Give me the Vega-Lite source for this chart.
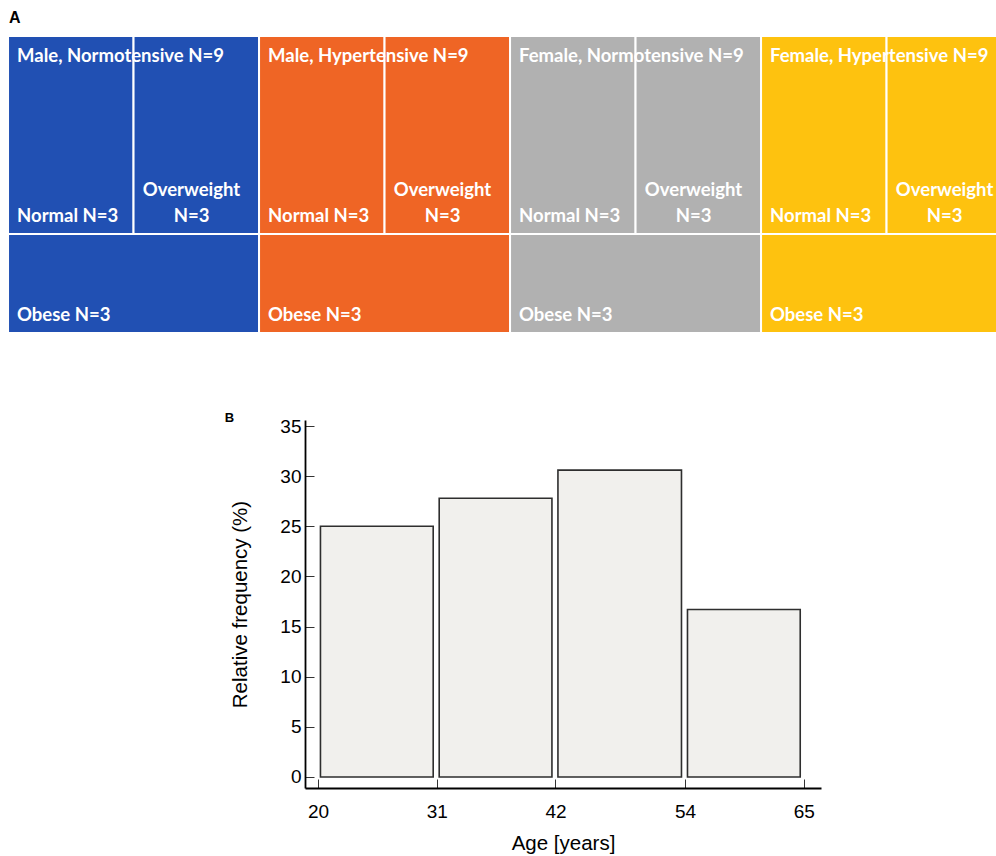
{
  "$schema": "https://vega.github.io/schema/vega-lite/v6.json",
  "padding": {"top": 10, "left": 0, "right": 0, "bottom": 0},
  "background": "white",
  "spacing": 79,
  "config": {"view": {"stroke": null}},
  "datasets": {
    "cells": [
      {"group": "Male, Normotensive", "cat": "Normal", "label": "Normal N=3", "x0": 0, "x1": 0.5, "y0": 0, "y1": 0.667},
      {"group": "Male, Normotensive", "cat": "Overweight", "label": "Overweight\nN=3", "x0": 0.5, "x1": 1, "y0": 0, "y1": 0.667},
      {"group": "Male, Normotensive", "cat": "Obese", "label": "Obese N=3", "x0": 0, "x1": 1, "y0": 0.667, "y1": 1},
      {"group": "Male, Hypertensive", "cat": "Normal", "label": "Normal N=3", "x0": 1, "x1": 1.5, "y0": 0, "y1": 0.667},
      {"group": "Male, Hypertensive", "cat": "Overweight", "label": "Overweight\nN=3", "x0": 1.5, "x1": 2, "y0": 0, "y1": 0.667},
      {"group": "Male, Hypertensive", "cat": "Obese", "label": "Obese N=3", "x0": 1, "x1": 2, "y0": 0.667, "y1": 1},
      {"group": "Female, Normotensive", "cat": "Normal", "label": "Normal N=3", "x0": 2, "x1": 2.5, "y0": 0, "y1": 0.667},
      {"group": "Female, Normotensive", "cat": "Overweight", "label": "Overweight\nN=3", "x0": 2.5, "x1": 3, "y0": 0, "y1": 0.667},
      {"group": "Female, Normotensive", "cat": "Obese", "label": "Obese N=3", "x0": 2, "x1": 3, "y0": 0.667, "y1": 1},
      {"group": "Female, Hypertensive", "cat": "Normal", "label": "Normal N=3", "x0": 3, "x1": 3.5, "y0": 0, "y1": 0.667},
      {"group": "Female, Hypertensive", "cat": "Overweight", "label": "Overweight\nN=3", "x0": 3.5, "x1": 4, "y0": 0, "y1": 0.667},
      {"group": "Female, Hypertensive", "cat": "Obese", "label": "Obese N=3", "x0": 3, "x1": 4, "y0": 0.667, "y1": 1}
    ],
    "groups": [
      {"group": "Male, Normotensive", "title": "Male, Normotensive N=9", "x0": 0, "y0": 0},
      {"group": "Male, Hypertensive", "title": "Male, Hypertensive N=9", "x0": 1, "y0": 0},
      {"group": "Female, Normotensive", "title": "Female, Normotensive N=9", "x0": 2, "y0": 0},
      {"group": "Female, Hypertensive", "title": "Female, Hypertensive N=9", "x0": 3, "y0": 0}
    ],
    "ages": [
      {"age_start": 20, "age_end": 31, "pct": 25.0},
      {"age_start": 31, "age_end": 42, "pct": 27.8},
      {"age_start": 42, "age_end": 54, "pct": 30.6},
      {"age_start": 54, "age_end": 65, "pct": 16.7}
    ]
  },
  "vconcat": [
    {
      "width": 996,
      "height": 297,
      "title": {"text": "A", "anchor": "start", "frame": "group", "font": "Liberation Sans", "fontSize": 16, "fontWeight": "bold", "color": "black", "offset": 10, "dx": 9},
      "layer": [
        {
          "data": {"name": "cells"},
          "mark": {"type": "rect", "stroke": "white", "strokeWidth": 2, "clip": true},
          "encoding": {
            "x": {"field": "x0", "type": "quantitative", "scale": {"domain": [-0.032, 3.936], "nice": false, "zero": false}, "axis": null},
            "x2": {"field": "x1"},
            "y": {"field": "y0", "type": "quantitative", "scale": {"domain": [0, 1], "nice": false, "reverse": true}, "axis": null},
            "y2": {"field": "y1"},
            "color": {"field": "group", "type": "nominal", "legend": null,
              "scale": {"domain": ["Male, Normotensive", "Male, Hypertensive", "Female, Normotensive", "Female, Hypertensive"],
                        "range": ["#2150b3", "#ef6525", "#b1b1b1", "#fec20f"]}}
          }
        },
        {
          "data": {"name": "cells"},
          "transform": [{"filter": "datum.cat !== 'Overweight'"}],
          "mark": {"type": "text", "align": "left", "baseline": "middle", "dx": 9, "dy": -18, "font": "Lato", "fontWeight": "bold", "fontSize": 18.5, "color": "white", "clip": true},
          "encoding": {
            "x": {"field": "x0", "type": "quantitative"},
            "y": {"field": "y1", "type": "quantitative"},
            "text": {"field": "label"}
          }
        },
        {
          "data": {"name": "cells"},
          "transform": [{"filter": "datum.cat === 'Overweight'"}],
          "mark": {"type": "text", "align": "center", "baseline": "middle", "lineBreak": "\n", "lineHeight": 26, "dx": 58, "dy": -44, "font": "Lato", "fontWeight": "bold", "fontSize": 18.5, "color": "white", "clip": true},
          "encoding": {
            "x": {"field": "x0", "type": "quantitative"},
            "y": {"field": "y1", "type": "quantitative"},
            "text": {"field": "label"}
          }
        },
        {
          "data": {"name": "groups"},
          "mark": {"type": "text", "align": "left", "baseline": "middle", "dx": 9, "dy": 20, "font": "Lato", "fontWeight": "bold", "fontSize": 18.5, "color": "white", "clip": true},
          "encoding": {
            "x": {"field": "x0", "type": "quantitative"},
            "y": {"field": "y0", "type": "quantitative"},
            "text": {"field": "title"}
          }
        }
      ]
    },
    {
      "spacing": 0,
      "hconcat": [
        {
          "width": 224,
          "height": 367,
          "data": {"values": [{"t": ""}]},
          "mark": {"type": "text"},
          "encoding": {"text": {"field": "t"}}
        },
        {
          "width": 516,
          "height": 368,
          "title": {"text": "B", "anchor": "start", "frame": "bounds", "font": "Liberation Sans", "fontSize": 13, "fontWeight": "bold", "color": "black", "offset": -8, "dx": -6},
          "data": {"name": "ages"},
          "mark": {"type": "rect", "fill": "#f1f0ed", "stroke": "#2e2e2e", "strokeWidth": 1.6, "xOffset": 2.5, "x2Offset": -3.5},
          "encoding": {
            "x": {"field": "age_start", "type": "quantitative",
              "scale": {"domain": [18.8, 66.6], "nice": false, "zero": false},
              "axis": {"values": [20, 31, 42, 54, 65], "title": "Age [years]", "grid": false,
                "domainColor": "black", "domainWidth": 1.8, "tickColor": "#333", "tickSize": -9, "tickWidth": 1,
                "labelFont": "Liberation Sans", "labelFontSize": 19, "labelColor": "black", "labelPadding": 23,
                "titleFont": "Liberation Sans", "titleFontSize": 20.5, "titleFontWeight": "normal", "titleColor": "black", "titlePadding": 12}},
            "x2": {"field": "age_end"},
            "y": {"field": "pct", "type": "quantitative",
              "scale": {"domain": [-1.1, 35.6], "nice": false, "zero": false},
              "axis": {"values": [0, 5, 10, 15, 20, 25, 30, 35], "title": "Relative frequency (%)", "grid": false,
                "domainColor": "black", "domainWidth": 1.8, "tickColor": "#333", "tickSize": -9, "tickWidth": 1,
                "labelFont": "Liberation Sans", "labelFontSize": 19, "labelColor": "black", "labelPadding": 13,
                "titleFont": "Liberation Sans", "titleFontSize": 20.5, "titleFontWeight": "normal", "titleColor": "black", "titlePadding": 29}},
            "y2": {"datum": 0}
          }
        }
      ]
    }
  ]
}
